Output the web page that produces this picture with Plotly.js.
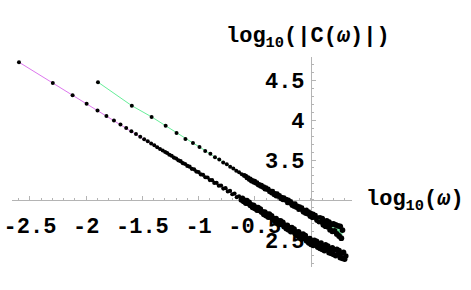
<!DOCTYPE html>
<html>
<head>
<meta charset="utf-8">
<script src="https://cdn.plot.ly/plotly-3.0.1.min.js"></script>
<style>html,body{margin:0;padding:0;background:#fff;}#chart{width:471px;height:290px;}</style>
</head>
<body>
<div id="chart"></div>
<script>
// log10(omega) and log10(|C(omega)|)
const lowerX = [-2.598,-2.297,-2.121,-1.996,-1.899,-1.820,-1.753,-1.695,-1.644,-1.598,-1.557,-1.519,-1.484,-1.452,-1.422,-1.394,-1.368,-1.343,-1.319,-1.297,
-1.28,-1.26,-1.24,-1.22,-1.20,-1.18,-1.16,-1.14,-1.12,-1.10,-1.08,-1.06,-1.04,-1.02,-1.00,-0.98,-0.96,-0.94,-0.92,-0.90,-0.88,-0.86,-0.84,-0.82,-0.80,-0.78,-0.76,-0.74,-0.72,-0.70,-0.68,-0.66,-0.64,-0.62,
-0.61,-0.60,-0.59,-0.58,-0.57,-0.56,-0.55,-0.54,-0.53,-0.52,-0.51,-0.50,-0.49,-0.48,-0.47,-0.46,-0.45,-0.44,-0.43,-0.42,-0.41,-0.40,-0.39,-0.38,-0.37,-0.36,-0.35,-0.34,-0.33,-0.32,-0.31,-0.30,-0.29,-0.28,-0.27,-0.26,-0.25,-0.24,-0.23,-0.22,-0.21,-0.20,-0.19,-0.18,-0.17,-0.16,-0.15,-0.14,-0.13,-0.12,-0.11,-0.10,-0.09,-0.08,-0.07,-0.06,-0.05,-0.04,-0.03,-0.02,-0.01,0.00,
0.01,0.02,0.03,0.04,0.05,0.06,0.07,0.08,0.09,0.10,0.11,0.12,0.13,0.14,0.15,0.16,0.17,0.18,0.19,0.20,0.21,0.22,0.23,0.24,0.25,0.26,0.27,0.28,0.29,0.30,0.31];
const lowerY = [4.725,4.465,4.312,4.204,4.120,4.052,3.994,3.944,3.900,3.860,3.825,3.792,3.761,3.734,3.708,3.684,3.661,3.639,3.619,3.600,
3.588,3.566,3.553,3.531,3.519,3.496,3.485,3.460,3.450,3.426,3.417,3.390,3.383,3.355,3.349,3.320,3.315,3.284,3.281,3.249,3.247,3.213,3.214,3.178,3.180,3.142,3.147,3.106,3.113,3.071,3.080,3.035,3.046,2.999,
3.020,2.980,2.995,2.958,2.992,2.956,2.972,2.931,2.939,2.906,2.932,2.893,2.908,2.870,2.906,2.869,2.885,2.845,2.852,2.818,2.850,2.803,2.823,2.782,2.823,2.783,2.802,2.755,2.767,2.730,2.766,2.713,2.740,2.692,2.740,2.692,2.719,2.665,2.682,2.640,2.684,2.623,2.655,2.602,2.656,2.603,2.636,2.575,2.597,2.550,2.601,2.533,2.570,2.512,2.574,2.516,2.553,2.485,2.511,2.460,2.518,2.443,
2.486,2.428,2.495,2.440,2.483,2.408,2.443,2.392,2.460,2.380,2.420,2.364,2.438,2.380,2.424,2.340,2.386,2.328,2.402,2.316,2.373,2.300,2.382,2.320,2.366,2.276,2.330,2.265,2.346,2.256,2.299];

const upperX = [-1.895,-1.594,-1.418,-1.293,-1.196,-1.117,-1.050,-0.992,-0.941,-0.895,-0.854,-0.816,-0.781,-0.749,-0.719,-0.691,-0.665,-0.640,-0.616,-0.594,
-0.58,-0.57,-0.56,-0.55,-0.54,-0.53,-0.52,-0.51,-0.50,-0.49,-0.48,-0.47,-0.46,-0.45,-0.44,-0.43,-0.42,-0.41,-0.40,-0.39,-0.38,-0.37,-0.36,-0.35,-0.34,-0.33,-0.32,-0.31,-0.30,-0.29,-0.28,-0.27,-0.26,-0.25,-0.24,-0.23,-0.22,-0.21,-0.20,-0.19,-0.18,-0.17,-0.16,-0.15,-0.14,-0.13,-0.12,-0.11,-0.10,-0.09,-0.08,-0.07,-0.06,-0.05,-0.04,-0.03,-0.02,-0.01,0.00,
0.01,0.02,0.03,0.04,0.05,0.06,0.07,0.08,0.09,0.10,0.11,0.12,0.13,0.14,0.15,0.16,0.17,0.18,0.19,0.20,0.21,0.22,0.23,0.24,0.25,0.26,0.27,0.28];
const upperY = [4.475,4.180,4.040,3.928,3.838,3.764,3.713,3.664,3.613,3.577,3.535,3.506,3.469,3.446,3.414,3.393,3.365,3.347,3.321,3.306,
3.297,3.275,3.280,3.255,3.264,3.235,3.243,3.221,3.235,3.209,3.216,3.186,3.193,3.170,3.186,3.159,3.167,3.135,3.153,3.128,3.138,3.102,3.114,3.085,3.109,3.065,3.081,3.047,3.079,3.043,3.058,3.014,3.036,3.000,3.030,2.996,3.011,2.963,2.999,2.959,2.980,2.930,2.952,2.916,2.952,2.903,2.926,2.878,2.917,2.879,2.903,2.845,2.872,2.829,2.876,2.822,2.854,2.791,2.833,
2.777,2.826,2.778,2.810,2.742,2.779,2.723,2.782,2.719,2.766,2.688,2.724,2.671,2.738,2.665,2.722,2.628,2.695,2.607,2.699,2.611,2.687,2.574,2.676,2.548,2.670,2.521,2.623];

const xTickVals = [-2.5,-2,-1.5,-1,-0.5];
const xTickText = ['-2.5','-2','-1.5','-1','-0.5'];
const yTickVals = [2.5,3.5,4,4.5];
const yTickText = ['2.5','3.5','4','4.5'];

const W = 471, H = 290;
const ml = 12, mr = 119, mt = 57, mb = 23;
const xr = [-2.66, 0.365], yr = [2.16, 4.79];
const pw = W - ml - mr, ph = H - mt - mb;
const px = v => (v - ml) / pw;
const py = v => (H - mb - v) / ph;

const fnt = {family: 'Liberation Mono, Courier New, monospace', size: 22, color: '#000', weight: 'bold'};
const axCol = '#b4b4b4';

// marker size grows where the points crowd together
const lowerSize = lowerX.map(v => v < -1.3 ? 4 : (v < -0.63 ? 4.2 : 5.5));
const upperSize = upperX.map(v => v < -0.6 ? 4 : (v < 0.1 ? 4.8 : 5.8));

const traces = [
  {x: lowerX, y: lowerY, type: 'scatter', mode: 'lines+markers',
   line: {color: '#dd77ee', width: 1},
   marker: {color: '#000', size: lowerSize, opacity: 1, line: {width: 0}}},
  {x: upperX, y: upperY, type: 'scatter', mode: 'lines+markers',
   line: {color: '#66ee99', width: 1},
   marker: {color: '#000', size: upperSize, opacity: 1, line: {width: 0}}}
];

const layout = {
  width: W, height: H,
  margin: {l: ml, r: mr, t: mt, b: mb, pad: 0},
  paper_bgcolor: '#fff', plot_bgcolor: '#fff',
  showlegend: false,
  font: fnt,
  xaxis: {
    range: xr, anchor: 'free', position: (3 - yr[0]) / (yr[1] - yr[0]),
    showgrid: false, zeroline: false, showline: true, linecolor: axCol, linewidth: 1,
    ticks: 'inside', ticklen: 4, tickcolor: axCol, tickwidth: 1,
    tickmode: 'array', tickvals: xTickVals, ticktext: xTickText,
    tickfont: fnt, layer: 'below traces', ticklabelstandoff: 6,
    minor: {ticks: 'inside', ticklen: 2, tickcolor: axCol, dtick: 0.1, tick0: 0, showgrid: false}
  },
  yaxis: {
    range: yr, anchor: 'free', position: (0 - xr[0]) / (xr[1] - xr[0]),
    showgrid: false, zeroline: false, showline: true, linecolor: axCol, linewidth: 1,
    ticks: 'inside', ticklen: 4, tickcolor: axCol, tickwidth: 1,
    tickmode: 'array', tickvals: yTickVals, ticktext: yTickText,
    tickfont: fnt, layer: 'below traces', ticklabelstandoff: 2,
    minor: {ticks: 'inside', ticklen: 2, tickcolor: axCol, dtick: 0.1, tick0: 0, showgrid: false}
  },
  annotations: [
    {xref: 'paper', yref: 'paper', x: px(224), y: py(38), xanchor: 'left', yanchor: 'middle',
     showarrow: false, font: fnt, text: 'log<sub>10</sub>(|<b>C</b>(<i>ω</i>)|)'},
    {xref: 'paper', yref: 'paper', x: px(364), y: py(201), xanchor: 'left', yanchor: 'middle',
     showarrow: false, font: fnt, text: 'log<sub>10</sub>(<i>ω</i>)'}
  ]
};

Plotly.newPlot('chart', traces, layout, {staticPlot: true, displayModeBar: false});
</script>
</body>
</html>
